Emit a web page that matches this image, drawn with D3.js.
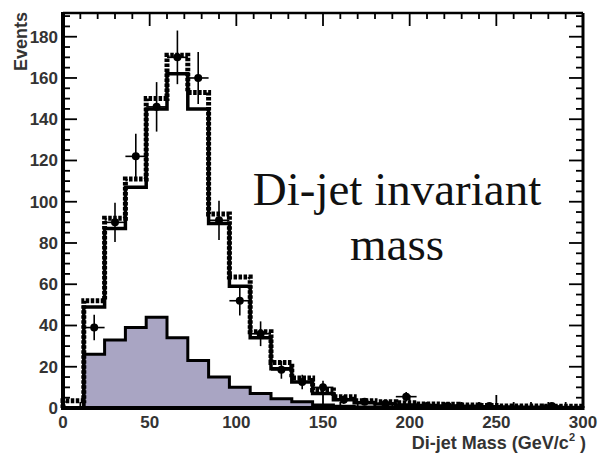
<!DOCTYPE html>
<html lang="en">
<head>
  <meta charset="UTF-8">
  <title>Di-jet invariant mass</title>
  <script src="https://d3js.org/d3.v7.min.js"></script>
  <style>
    body { margin: 0; background: #fff; }
    .tick-label { font-family: "Liberation Sans", Arial, sans-serif; font-weight: bold; font-size: 17px; fill: #333; }
    .axis-title { font-family: "Liberation Sans", Arial, sans-serif; font-weight: bold; font-size: 18px; fill: #333; }
    .big-label { font-family: "Liberation Serif", "Times New Roman", serif; font-size: 47px; fill: #111; }
  </style>
</head>
<body>
  <svg width="601" height="455"></svg>

  <script>
    // bin low edges (12 GeV bins)
    const binLo = [0, 12, 24, 36, 48, 60, 72, 84, 96, 108, 120, 132, 144,
                   156, 168, 180, 192, 204, 216, 228, 240, 252, 264, 276, 288];
    const binWidth = 12;

    // shaded component
    const shaded = [0, 26, 33, 39, 44, 34, 23, 15, 10, 7, 4.5, 3, 1.5,
                    0.8, 0.5, 0.3, 0.2, 0.1, 0.1, 0, 0, 0, 0, 0, 0];
    // solid total
    const solid = [0, 49, 87, 107, 145, 162, 145, 89.5, 59, 34, 19, 12.6, 7,
                   4, 2.5, 2, 1.5, 1.2, 1, 0.8, 0.6, 0.5, 0.4, 0.3, 0.3];
    // dotted total
    const dotted = [3.5, 52, 92, 111, 150, 171, 153, 94, 63.5, 37, 22, 14.5, 8.7,
                    5.5, 3.5, 3, 2.5, 2, 1.8, 1.5, 1.2, 1, 1, 0.8, 0.8];
    // data points and errors
    const dataVal = [0, 39, 90, 122, 146, 170, 160, 91, 52, 36, 18.5, 12.6, 10,
                     4, 3, 2, 5.5, 1, 1, 0, 1, 0, 0, 1, 0];
    const dataErr = [0, 6.2, 9.5, 11, 12, 13, 12.6, 9.5, 7.2, 6, 4.3, 3.5, 3.2,
                     2, 1.7, 1.4, 2.3, 1, 1, 0, 1, 0, 0, 1, 0];

    const xTicks = [0, 50, 100, 150, 200, 250, 300];
    const yTicks = [0, 20, 40, 60, 80, 100, 120, 140, 160, 180];

    const svg = d3.select('svg');
    const pLeft = 63, pRight = 583, pTop = 13, pBottom = 408;

    const x = d3.scaleLinear().domain([0, 300]).range([pLeft, pRight]);
    const y = d3.scaleLinear().domain([0, 191.5]).range([pBottom, pTop]);

    // ticks (drawn first so the fill sits over them)
    const g = svg.append('g');
    d3.range(0, 301, 10).forEach(v => {
      const major = v % 50 === 0;
      const len = major ? 13 : 6;
      g.append('line').attr('x1', x(v)).attr('x2', x(v))
        .attr('y1', pBottom).attr('y2', pBottom - len)
        .attr('stroke', '#000').attr('stroke-width', 1.8);
      g.append('line').attr('x1', x(v)).attr('x2', x(v))
        .attr('y1', pTop).attr('y2', pTop + len)
        .attr('stroke', '#000').attr('stroke-width', 1.8);
    });
    d3.range(0, 191, 5).forEach(v => {
      const major = v % 20 === 0;
      const len = major ? 14 : 7;
      g.append('line').attr('x1', pLeft).attr('x2', pLeft + len)
        .attr('y1', y(v)).attr('y2', y(v))
        .attr('stroke', '#000').attr('stroke-width', 1.8);
      g.append('line').attr('x1', pRight).attr('x2', pRight - len)
        .attr('y1', y(v)).attr('y2', y(v))
        .attr('stroke', '#000').attr('stroke-width', 1.8);
    });

    function stepPoints(vals, startZero) {
      const pts = [];
      if (startZero) pts.push([binLo[0], 0]);
      binLo.forEach((lo, i) => pts.push([lo, vals[i]]));
      pts.push([binLo[binLo.length - 1] + binWidth, vals[vals.length - 1]]);
      return pts;
    }

    const area = d3.area()
      .x(d => x(d[0])).y0(y(0)).y1(d => y(d[1]))
      .curve(d3.curveStepAfter);
    const line = d3.line()
      .x(d => x(d[0])).y(d => y(d[1]))
      .curve(d3.curveStepAfter);

    // shaded histogram
    svg.append('path')
      .datum(stepPoints(shaded, false))
      .attr('d', area)
      .attr('fill', '#a9a5c3');
    svg.append('path')
      .datum(stepPoints(shaded, false))
      .attr('d', line)
      .attr('fill', 'none').attr('stroke', '#000').attr('stroke-width', 3);

    // solid histogram
    svg.append('path')
      .datum(stepPoints(solid, false))
      .attr('d', line)
      .attr('fill', 'none').attr('stroke', '#000').attr('stroke-width', 3.5);

    // dotted histogram
    svg.append('path')
      .datum(stepPoints(dotted, true))
      .attr('d', line)
      .attr('fill', 'none').attr('stroke', '#000').attr('stroke-width', 5)
      .attr('stroke-dasharray', '3.5,1.5');

    // data points
    const pts = binLo.map((lo, i) => ({ lo: lo, v: dataVal[i], e: dataErr[i] }))
      .filter(d => d.v > 0);
    const pg = svg.append('g');
    pts.forEach(d => {
      const cx = x(d.lo + binWidth / 2);
      pg.append('line').attr('x1', x(d.lo)).attr('x2', x(d.lo + binWidth))
        .attr('y1', y(d.v)).attr('y2', y(d.v))
        .attr('stroke', '#000').attr('stroke-width', 1.6);
      pg.append('line').attr('x1', cx).attr('x2', cx)
        .attr('y1', y(d.v + d.e)).attr('y2', y(Math.max(0, d.v - d.e)))
        .attr('stroke', '#000').attr('stroke-width', 1.6);
      pg.append('circle').attr('cx', cx).attr('cy', y(d.v)).attr('r', 4)
        .attr('fill', '#000');
    });

    // frame
    svg.append('line').attr('x1', pLeft).attr('x2', pRight).attr('y1', pTop).attr('y2', pTop)
      .attr('stroke', '#000').attr('stroke-width', 2.5);
    svg.append('line').attr('x1', pRight).attr('x2', pRight).attr('y1', pTop).attr('y2', pBottom)
      .attr('stroke', '#000').attr('stroke-width', 3);
    svg.append('line').attr('x1', pLeft).attr('x2', pLeft).attr('y1', pTop - 1).attr('y2', pBottom + 2)
      .attr('stroke', '#000').attr('stroke-width', 4);
    svg.append('line').attr('x1', pLeft - 2).attr('x2', pRight + 1.5).attr('y1', pBottom).attr('y2', pBottom)
      .attr('stroke', '#000').attr('stroke-width', 4);

    // tick labels
    svg.selectAll('text.ylab').data(yTicks).enter().append('text')
      .attr('class', 'tick-label ylab')
      .attr('x', 58).attr('y', d => y(d) + 6)
      .attr('text-anchor', 'end')
      .text(d => d);
    svg.selectAll('text.xlab').data(xTicks).enter().append('text')
      .attr('class', 'tick-label xlab')
      .attr('x', d => x(d)).attr('y', 428)
      .attr('text-anchor', 'middle')
      .text(d => d);

    // axis titles
    const xt = svg.append('text').attr('class', 'axis-title')
      .attr('x', 586).attr('y', 449).attr('text-anchor', 'end');
    xt.append('tspan').text('Di-jet Mass (GeV/c');
    xt.append('tspan').attr('dy', -8).attr('font-size', 11).text('2');
    xt.append('tspan').attr('dy', 8).text(' )');

    svg.append('text').attr('class', 'axis-title')
      .attr('font-size', 18.5)
      .attr('transform', 'translate(27,12) rotate(-90)')
      .attr('text-anchor', 'end')
      .text('Events');

    // big label
    svg.append('text').attr('class', 'big-label')
      .attr('x', 397).attr('y', 205).attr('text-anchor', 'middle')
      .text('Di-jet invariant');
    svg.append('text').attr('class', 'big-label')
      .attr('x', 397).attr('y', 260).attr('text-anchor', 'middle')
      .text('mass');
  </script>
</body>
</html>
